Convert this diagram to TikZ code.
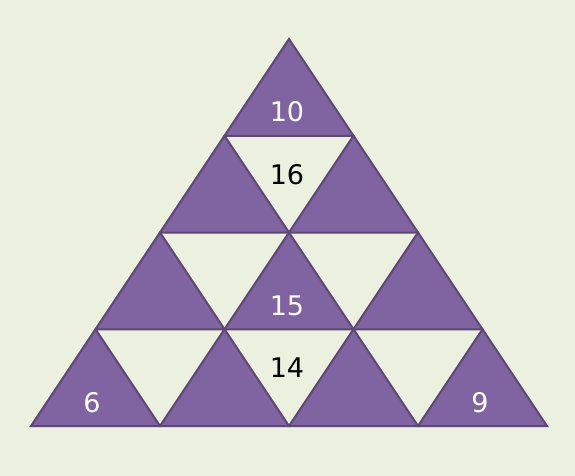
\documentclass[tikz,border=0pt]{standalone}
\usepackage{fontspec}
\setmainfont{DejaVu Sans}
\definecolor{bgc}{HTML}{EBF1DE}
\definecolor{purp}{HTML}{8064A2}
\definecolor{edge}{HTML}{5C4776}
\begin{document}
\begin{tikzpicture}[x=1pt,y=-1pt,
  uptri/.style={fill=purp,draw=edge,line width=2pt,line join=miter},
  numw/.style={text=white,font=\fontsize{27}{27}\selectfont,inner sep=0pt},
  numb/.style={text=black,font=\fontsize{27}{27}\selectfont,inner sep=0pt}]
\fill[bgc] (0,0) rectangle (575,476);
\useasboundingbox (0,0) rectangle (575,476);
\foreach \r in {1,...,4}{
  \pgfmathtruncatemacro{\n}{\r-1}
  \foreach \i in {0,...,\n}{
    \pgfmathsetmacro{\ax}{289-64.5*(\r-1)+129*\i}
    \pgfmathsetmacro{\ay}{39+96.75*(\r-1)}
    \pgfmathsetmacro{\by}{39+96.75*\r}
    \draw[uptri] (\ax,\ay) -- (\ax-64.5,\by) -- (\ax+64.5,\by) -- cycle;
  }
}
\node[numw] (n10) at (287,112) {10};
\node[numb] (n16) at (287,175) {16};
\node[numw] (n15) at (287,306) {15};
\node[numb] (n14) at (287,368) {14};
\node[numw] (n6) at (92,403) {6};
\node[numw] (n9) at (480,403) {9};
\end{tikzpicture}
\end{document}
